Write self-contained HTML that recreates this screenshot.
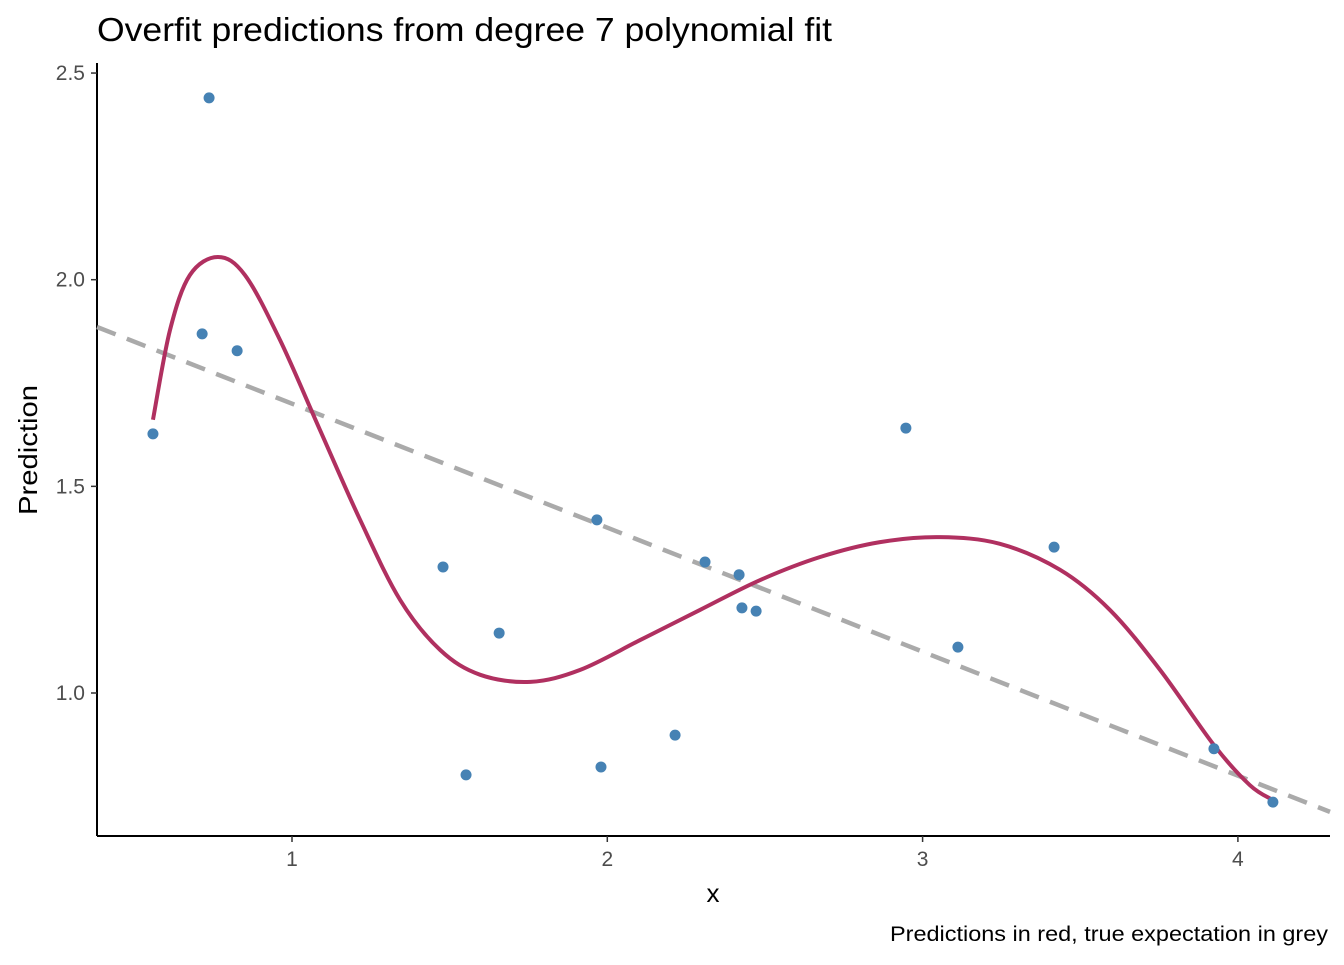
<!DOCTYPE html>
<html><head><meta charset="utf-8"><style>
body{margin:0;background:#fff;font-family:"Liberation Sans",sans-serif}
</style></head><body>
<svg width="1344" height="960" xmlns="http://www.w3.org/2000/svg" id="chart" font-family="Liberation Sans, sans-serif">
<text x="97" y="41" font-size="33" textLength="735" lengthAdjust="spacingAndGlyphs" fill="#000">Overfit predictions from degree 7 polynomial fit</text>
<g id="axes"></g>
<g id="marks"></g>
<text x="713" y="902" font-size="26" text-anchor="middle">x</text>
<text transform="translate(37,450) rotate(-90)" font-size="26" text-anchor="middle" textLength="130" lengthAdjust="spacingAndGlyphs">Prediction</text>
<text x="1328" y="941" font-size="21" text-anchor="end" textLength="438" lengthAdjust="spacingAndGlyphs">Predictions in red, true expectation in grey</text>
</svg>
<script>
const pointX=[0.559,0.737,0.715,0.826,1.479,1.657,1.552,1.967,1.980,2.215,2.310,2.418,2.427,2.472,2.947,3.112,3.417,3.924,4.111];
const pointY=[1.627,2.44,1.869,1.828,1.305,1.145,0.802,1.419,0.821,0.898,1.317,1.286,1.206,1.198,1.641,1.111,1.353,0.865,0.736];
const fitX=[0.559,0.613,0.676,0.765,0.851,0.962,1.089,1.216,1.343,1.470,1.597,1.756,1.914,2.104,2.294,2.484,2.675,2.865,3.055,3.245,3.436,3.594,3.753,3.924,4.038,4.111];
const fitY=[1.661,1.878,2.011,2.055,2.011,1.854,1.636,1.419,1.225,1.104,1.044,1.027,1.056,1.128,1.201,1.273,1.329,1.365,1.377,1.361,1.298,1.201,1.056,0.874,0.777,0.741];
const trueIntercept=2.0, trueSlope=-0.3;
const xTicks=[1,2,3,4];
const yTicks=[1.0,1.5,2.0,2.5];
const yTickLabels=["1.0","1.5","2.0","2.5"];
const X0=97,X1=1330,Y0=63,Y1=836;
const sx=v=>292+(v-1)*315.3;
const sy=v=>693-(v-1)*413.3;
const NS="http://www.w3.org/2000/svg";
const axes=document.getElementById('axes'),marks=document.getElementById('marks');
function mk(tag,attrs,parent){const e=document.createElementNS(NS,tag);for(const k in attrs)e.setAttribute(k,attrs[k]);parent.appendChild(e);return e;}
let a=mk('line',{x1:X0,y1:Y0,x2:X0,y2:Y1,stroke:'#000','stroke-width':2},axes);


a=mk('line',{x1:X0,y1:Y1,x2:X1,y2:Y1,stroke:'#000','stroke-width':2},axes);


xTicks.forEach(t=>{const x=sx(t);
 const l=mk('line',{x1:x,y1:Y1,x2:x,y2:Y1+6,stroke:'#333','stroke-width':1.5},axes);
 
 
 const tx=mk('text',{x:x,y:Y1+30,'font-size':21,'text-anchor':'middle',fill:'#4d4d4d'},axes);tx.textContent=t;
 
 });
yTicks.forEach((t,i)=>{const y=sy(t);
 const l=mk('line',{x1:X0-6,y1:y,x2:X0,y2:y,stroke:'#333','stroke-width':1.5},axes);
 
 
 const tx=mk('text',{x:X0-12,y:y+7,'font-size':21,'text-anchor':'end',fill:'#4d4d4d'},axes);tx.textContent=yTickLabels[i];
 
 });
const xa=(X0-292)/315.3+1,xb=(X1-292)/315.3+1;
const tl=mk('line',{x1:sx(xa),y1:sy(trueIntercept+trueSlope*xa),x2:sx(xb),y2:sy(trueIntercept+trueSlope*xb),stroke:'#aaaaaa','stroke-width':4.5,'stroke-dasharray':'20 12'},marks);


const P=fitX.map((v,i)=>[sx(v),sy(fitY[i])]);
let d='M'+P[0][0]+','+P[0][1];
for(let i=0;i<P.length-1;i++){const p0=P[Math.max(0,i-1)],p1=P[i],p2=P[i+1],p3=P[Math.min(P.length-1,i+2)];
 d+=' C'+(p1[0]+(p2[0]-p0[0])/6)+','+(p1[1]+(p2[1]-p0[1])/6)+' '+(p2[0]-(p3[0]-p1[0])/6)+','+(p2[1]-(p3[1]-p1[1])/6)+' '+p2[0]+','+p2[1];}
const fl=mk('path',{d:d,fill:'none',stroke:'#b03060','stroke-width':4,'stroke-linejoin':'round'},marks);


pointX.forEach((v,i)=>{const c=mk('circle',{cx:sx(v),cy:sy(pointY[i]),r:5.5,fill:'#4682b4'},marks);
 
 });
</script>
</body></html>
